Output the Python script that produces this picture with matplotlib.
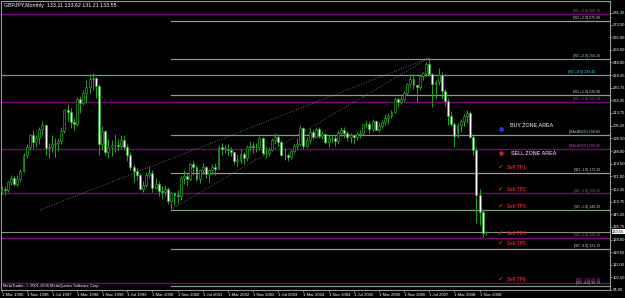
import numpy as np
import matplotlib
matplotlib.use('Agg')
import matplotlib.pyplot as plt
from matplotlib.transforms import blended_transform_factory

plt.rcParams['font.family'] = ['Liberation Sans Narrow', 'Liberation Sans', 'DejaVu Sans']

# GBPJPY monthly bars, Mar 1996 .. Jan 2009
opens = [160.5, 162.0, 161.5, 167.0, 169.5, 166.0, 169.0, 174.5, 185.0, 191.0,
         198.5, 194.0, 196.5, 203.0, 205.5, 190.0, 190.5, 193.0, 193.5, 195.0, 201.5, 215.5,
         214.5, 207.5, 206.0, 223.0, 220.5, 227.0, 231.5, 237.0, 237.5, 232.0, 192.5, 201.5,
         187.5, 191.0, 192.0, 192.0, 191.5, 195.5, 191.0, 185.0, 177.0, 174.5, 172.0, 162.5,
         165.0, 172.0, 173.0, 163.0, 166.0, 161.0, 160.5, 162.5, 154.5, 159.5, 158.0, 157.5,
         170.0, 171.0, 169.0, 179.0, 177.0, 169.0, 175.0, 177.5, 172.5, 175.0, 177.5, 176.0,
         190.5, 189.5, 189.5, 189.0, 187.0, 181.5, 182.0, 186.0, 183.0, 190.5, 191.5, 190.5,
         191.0, 197.0, 186.5, 186.5, 189.0, 195.5, 197.5, 194.0, 185.0, 185.0, 184.0, 188.0,
         191.5, 193.0, 203.5, 191.5, 195.5, 201.0, 197.5, 203.0, 198.0, 199.5, 194.0, 196.5,
         197.0, 195.0, 200.5, 202.5, 200.5, 197.5, 198.5, 197.5, 199.5, 200.0, 206.0, 206.5,
         203.0, 208.5, 202.5, 205.0, 207.5, 210.5, 211.5, 214.5, 223.5, 221.0, 223.0, 227.5,
         233.0, 237.0, 232.5, 231.5, 238.5, 240.5, 247.0, 240.0, 233.0, 234.5, 239.5, 228.5,
         221.5, 211.5, 206.0, 198.0, 205.5, 208.5, 211.5, 213.5, 197.5, 189.0, 158.0, 147.0,
         133.11]
highs = [164.0, 164.5, 168.0, 171.5, 171.0, 171.5, 176.0, 186.5, 192.5, 199.5,
         202.5, 199.0, 204.0, 208.5, 206.0, 193.5, 199.0, 196.5, 197.0, 204.0, 216.5, 219.5,
         217.0, 210.5, 224.5, 225.0, 229.5, 236.0, 238.5, 240.5, 238.0, 233.0, 205.0, 202.0,
         196.0, 195.5, 199.5, 196.0, 198.5, 199.0, 193.0, 187.0, 179.5, 176.5, 173.0, 167.5,
         174.0, 178.0, 175.0, 170.0, 167.5, 164.5, 165.0, 163.5, 161.0, 160.5, 161.5, 171.0,
         175.0, 172.5, 180.0, 181.0, 178.5, 176.0, 180.0, 178.0, 176.0, 179.0, 180.0, 192.0,
         193.5, 192.0, 192.5, 191.0, 188.0, 186.0, 189.5, 187.5, 192.0, 194.5, 194.0, 193.5,
         198.0, 197.5, 191.0, 190.5, 196.5, 200.5, 199.5, 195.5, 190.0, 186.5, 189.0, 192.5,
         196.5, 205.5, 204.0, 197.5, 203.5, 202.5, 204.0, 204.5, 201.5, 200.5, 198.5, 199.5,
         198.5, 202.0, 204.5, 204.0, 201.5, 200.0, 199.5, 201.0, 202.0, 206.5, 209.0, 208.5,
         209.5, 209.0, 207.5, 209.0, 213.0, 214.0, 216.0, 224.5, 224.5, 225.5, 228.5, 234.0,
         240.0, 240.0, 233.5, 239.5, 241.5, 248.0, 251.0, 241.0, 236.0, 244.0, 241.5, 230.0,
         224.0, 215.0, 207.5, 207.0, 209.5, 213.0, 215.5, 215.0, 200.5, 190.5, 162.5, 148.5,
         133.62]
lows = [159.0, 158.5, 160.5, 165.0, 164.0, 164.5, 168.0, 173.5, 183.0, 189.0,
        190.0, 190.5, 193.0, 199.0, 185.5, 183.0, 187.5, 184.0, 188.0, 193.0, 200.0, 208.0,
        203.5, 202.0, 205.0, 214.0, 219.0, 220.5, 227.5, 229.0, 224.0, 185.0, 189.0, 185.5,
        183.0, 184.5, 187.0, 188.0, 190.0, 188.5, 181.5, 175.0, 167.0, 168.5, 161.5, 160.5,
        163.5, 170.0, 160.5, 162.0, 157.5, 155.5, 157.5, 152.0, 148.5, 151.5, 153.0, 155.0,
        166.0, 164.5, 167.5, 172.0, 167.5, 166.5, 172.5, 170.0, 167.0, 172.5, 172.0, 175.5,
        185.5, 186.5, 185.0, 184.5, 179.5, 178.0, 180.0, 179.5, 181.5, 188.0, 186.5, 187.0,
        189.0, 185.0, 183.5, 184.5, 188.0, 193.0, 191.5, 184.5, 182.0, 181.0, 182.5, 186.5,
        189.5, 192.0, 189.5, 190.0, 193.5, 196.0, 196.5, 196.5, 196.0, 192.5, 191.0, 194.0,
        191.5, 193.0, 198.0, 197.0, 194.5, 193.5, 193.0, 195.5, 197.0, 199.0, 204.0, 200.0,
        201.5, 202.0, 201.0, 203.5, 205.5, 206.0, 210.0, 213.5, 218.5, 219.5, 221.5, 226.0,
        231.5, 230.0, 221.0, 229.5, 236.0, 239.0, 238.5, 218.0, 223.0, 232.5, 224.0, 218.5,
        205.5, 205.0, 191.0, 197.0, 201.0, 205.0, 207.0, 196.5, 185.0, 139.5, 138.0, 130.0,
        131.21]
closes = [162.0, 161.5, 167.0, 169.5, 166.0, 169.0, 174.5, 185.0, 191.0, 198.5,
          194.0, 196.5, 203.0, 205.5, 190.0, 190.5, 193.0, 193.5, 195.0, 201.5, 215.5, 214.5,
          207.5, 206.0, 223.0, 220.5, 227.0, 231.5, 237.0, 237.5, 232.0, 192.5, 201.5, 187.5,
          191.0, 192.0, 192.0, 191.5, 195.5, 191.0, 185.0, 177.0, 174.5, 172.0, 162.5, 165.0,
          172.0, 173.0, 163.0, 166.0, 161.0, 160.5, 162.5, 154.5, 159.5, 158.0, 157.5, 170.0,
          171.0, 169.0, 179.0, 177.0, 169.0, 175.0, 177.5, 172.5, 175.0, 177.5, 176.0, 190.5,
          189.5, 189.5, 189.0, 187.0, 181.5, 182.0, 186.0, 183.0, 190.5, 191.5, 190.5, 191.0,
          197.0, 186.5, 186.5, 189.0, 195.5, 197.5, 194.0, 185.0, 185.0, 184.0, 188.0, 191.5,
          193.0, 203.5, 191.5, 195.5, 201.0, 197.5, 203.0, 198.0, 199.5, 194.0, 196.5, 197.0,
          195.0, 200.5, 202.5, 200.5, 197.5, 198.5, 197.5, 199.5, 200.0, 206.0, 206.5, 203.0,
          208.5, 202.5, 205.0, 207.5, 210.5, 211.5, 214.5, 223.5, 221.0, 223.0, 227.5, 233.0,
          237.0, 232.5, 231.5, 238.5, 240.5, 247.0, 240.0, 233.0, 234.5, 239.5, 228.5, 221.5,
          211.5, 206.0, 198.0, 205.5, 208.5, 211.5, 213.5, 197.5, 189.0, 158.0, 147.0, 132.5,
          133.55]

time_labels = ['1 Mar 1996', '1 Nov 1996', '1 Jul 1997', '1 Mar 1998', '1 Nov 1998',
               '1 Jul 1999', '1 Mar 2000', '1 Nov 2000', '1 Jul 2001', '1 Mar 2002',
               '1 Nov 2002', '1 Jul 2003', '1 Mar 2004', '1 Nov 2004', '1 Jul 2005',
               '1 Mar 2006', '1 Nov 2006', '1 Jul 2007', '1 Mar 2008', '1 Nov 2008']
time_label_bars = [0, 8, 16, 24, 32, 40, 48, 56, 64, 72, 80, 88, 96, 104, 112,
                   120, 128, 136, 144, 152]

price_ticks = [94.00, 102.50, 111.00, 119.50, 128.00, 136.75, 145.25, 153.75, 162.25,
               171.00, 179.50, 188.00, 196.50, 205.25, 213.75, 222.25, 230.75, 239.25,
               248.00, 256.50, 265.00, 273.50, 281.35]
bid = 133.55

# channel from the 1996 start (purple, full width)
purple_levels = [280.70, 221.20, 189.40, 159.30, 129.20, 98.70]
purple_tags = ['[SD +3.0] 280.70', '[SD +1.0] 221.20', '[BALANCE] 189.40',
               '[SD -1.0] 159.30', '[SD -2.0] 129.20', '[SD -3.0] 98.70']
# channel from the Sep 2000 low (grey / green)
low_levels = [275.90, 250.20, 225.90, 198.80, 173.30, 148.10, 121.70, 96.70]
low_tags = ['[SD +3.0] 275.90', '[SD +2.0] 250.20', '[SD +1.0] 225.90', '[BALANCE] 198.80',
            '[SD -1.0] 173.30', '[SD -2.0] 148.10', '[SD -3.0] 121.70', '[SD -4.0] 96.70']
high_1998 = 239.40
high_1998_tag = '[SD +0.5] 239.40'
low_bar = 54

tp_labels = ['Sell TP1', 'Sell TP2', 'Sell TP3', 'Sell TP4', 'Sell TP5', 'Sell TP6']
tp_prices = [176.8, 162.3, 150.3, 132.1, 125.3, 101.4]

GREEN = '#20a820'
PURPLE = '#800080'
GREY = '#9a9a9a'
SAGE = '#7f9f7f'
CYAN = '#5fa0a8'

W, H = 625, 298
L_PX, R_PX, T_PX, B_PX = 1, 610, 1, 290
X0, DX = 1.5, 3.145          # pixel of first bar, pixels per bar
P13, PPX = 281.35, 0.6764    # price at pixel row 13, price per pixel

def bar_at(x):
    return (x - X0) / DX

def price_at(y):
    return P13 - (y - 13) * PPX

fig = plt.figure(figsize=(W / 100, H / 100), dpi=100, facecolor='black')
ax = fig.add_axes([L_PX / W, 1 - B_PX / H, (R_PX - L_PX) / W, (B_PX - T_PX) / H])
ax.set_facecolor('black')
ax.set_xlim(bar_at(L_PX), bar_at(R_PX))
ax.set_ylim(price_at(B_PX), price_at(T_PX))
xr = bar_at(R_PX)
xl = bar_at(L_PX)
xlab = bar_at(600)

# horizontal levels
for lv, tg in zip(purple_levels, purple_tags):
    ax.plot([xl, xr], [lv, lv], color=PURPLE, lw=1.0, zorder=1)
    ax.text(xlab, lv + 0.4, tg, color='#c040c0', fontsize=2.6, ha='right', va='bottom')
for k, (lv, tg) in enumerate(zip(low_levels, low_tags)):
    c = SAGE if k % 2 else GREY
    ax.plot([low_bar, xr], [lv, lv], color=c, lw=0.9, zorder=1)
    ax.text(xlab, lv + 0.4, tg, color='#a8d0a8' if k % 2 else '#d0d0d0',
            fontsize=2.6, ha='right', va='bottom')
ax.plot([xl, xr], [high_1998, high_1998], color=CYAN, lw=0.9, zorder=1)
ax.text(xlab - 1.5, high_1998 + 0.4, high_1998_tag, color='#40d0e0', fontsize=2.6,
        ha='right', va='bottom')
ax.plot([xl, xr], [bid, bid], color='#8a8a8a', lw=0.8, zorder=1)

# dotted trend lines up to the Jul 2007 top
ax.plot([bar_at(40), 136], [price_at(210), highs[136]], color='#8a8a8a', lw=0.6,
        ls=(0, (1, 2)), zorder=1)
ax.plot([low_bar, 136], [lows[low_bar], highs[136]], color='#8a8a8a', lw=0.6,
        ls=(0, (1, 2)), zorder=1)

# candles
idx = np.arange(len(closes))
o = np.array(opens)
c = np.array(closes)
ax.vlines(idx, lows, highs, color=GREEN, lw=0.7, zorder=2)
bottom = np.minimum(o, c)
height = np.maximum(np.abs(c - o), 0.4)
faces = ['black' if cc >= oo else 'white' for oo, cc in zip(o, c)]
ax.bar(idx, height, bottom=bottom, width=0.62, color=faces, edgecolor=GREEN,
       linewidth=0.5, zorder=3)

# zone / target annotations
ax.plot(bar_at(500.7), price_at(129), 'o', color='#2030ff', ms=2.5, zorder=4)
ax.text(bar_at(510), price_at(126), 'BUY ZONE AREA', color='white', fontsize=3.9,
        va='center', ha='left', family=['Liberation Sans', 'DejaVu Sans'])
ax.plot(bar_at(500.7), price_at(153), 'o', color='#d02020', ms=2.2, zorder=4)
ax.text(bar_at(511), price_at(154), 'SELL ZONE AREA', color='white', fontsize=3.9,
        va='center', ha='left', family=['Liberation Sans', 'DejaVu Sans'])
for lbl, p in zip(tp_labels, tp_prices):
    ax.text(bar_at(497.5), p, '\u2714', color='#e02020', fontsize=4.6, va='center',
            ha='left', family=['DejaVu Sans'])
    ax.text(bar_at(507), p, lbl, color='#e02020', fontsize=3.4, va='center', ha='left',
            fontweight='bold', family=['Liberation Sans', 'DejaVu Sans'])

# axes styling
for s in ax.spines.values():
    s.set_color('#9a9a9a')
    s.set_linewidth(0.8)
ax.set_xticks(time_label_bars)
ax.set_xticklabels(time_labels)
for t in ax.get_xticklabels():
    t.set_ha('left')
ax.tick_params(axis='x', colors='#9a9a9a', labelcolor='white', labelsize=3.1,
               length=1.5, width=0.6, pad=0.4)
ax.yaxis.tick_right()
ax.set_yticks(price_ticks)
ax.set_yticklabels(['%.2f' % p for p in price_ticks])
ax.tick_params(axis='y', colors='#9a9a9a', labelcolor='white', labelsize=3.0,
               length=1.5, width=0.6, pad=0.6)

tr = blended_transform_factory(ax.transAxes, ax.transData)
ax.text(1.0035, bid, '%.2f' % bid, transform=tr, color='black', fontsize=3.0,
        va='center', ha='left', clip_on=False,
        bbox=dict(boxstyle='square,pad=0.15', fc='white', ec='none'))

fig.text(4 / W, 1 - 5 / H, 'GBPJPY,Monthly  133.11 133.62 131.21 133.55', color='white',
         fontsize=3.8, va='center', ha='left')
fig.text(3 / W, 1 - 286 / H, 'MetaTrader: \u00a9 2001-2008 MetaQuotes Software Corp.',
         color='white', fontsize=2.9, va='center', ha='left')

fig.savefig('out.png', dpi=100, facecolor='black')
